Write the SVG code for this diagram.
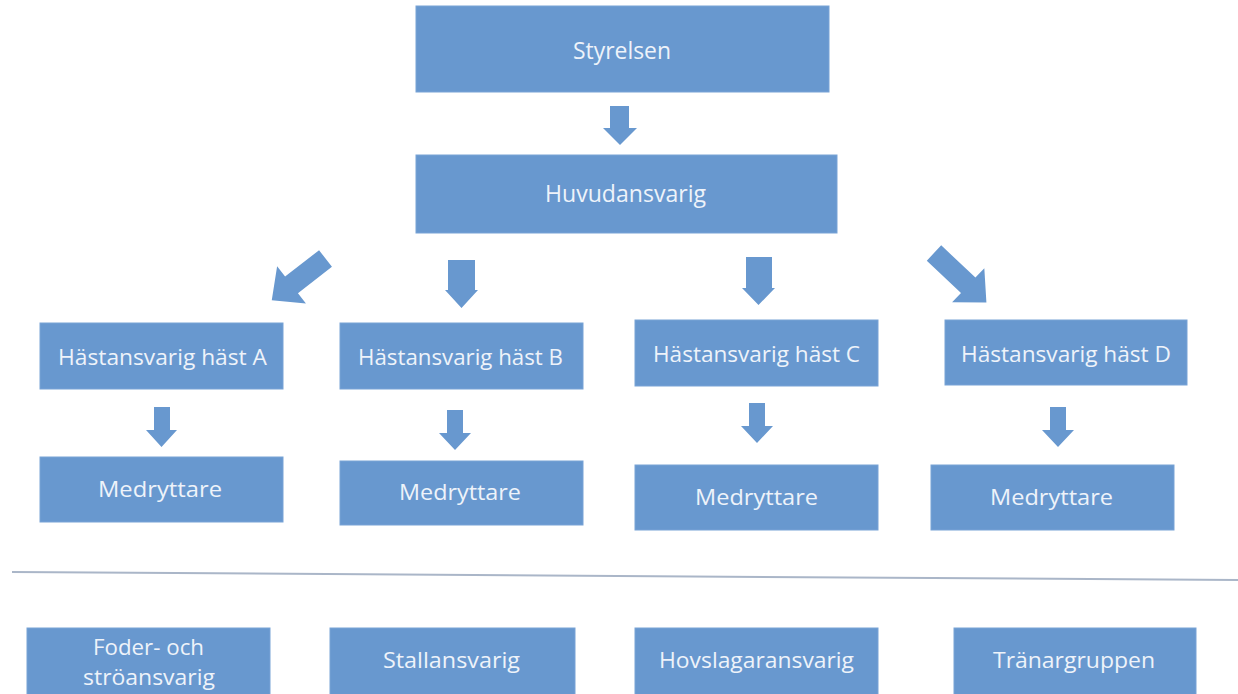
<svg xmlns="http://www.w3.org/2000/svg" width="1238" height="694" viewBox="0 0 1238 694">
<style>
.box{fill:#6898cf;stroke:#79a3d6;stroke-width:1}
.arr{fill:#6898cf}
.t{font-family:"Open Sans","Lato","Liberation Sans",sans-serif;fill:#eef3fa;text-anchor:middle;font-size:22px}
.tb{font-size:24px}
.sep{stroke:#aab6c8;stroke-width:2;fill:none}
</style>
<rect width="1238" height="694" fill="#ffffff"/>
<g id="connectors">
<path class="arr" d="M610,106 H629 V128 H637 L620,145 L603,128 H610 Z"/>
<polygon class="arr" transform="translate(325.5,258.5) rotate(142.2)" points="0,-10.5 43,-10.5 43,-23.5 68,0 43,23.5 43,10.5 0,10.5"/>
<path class="arr" d="M448,260 H475 V290 H478 L461.5,308 L445,290 H448 Z"/>
<path class="arr" d="M746,257 H772 V288 H775 L758.5,305 L742,288 H746 Z"/>
<polygon class="arr" transform="translate(934,253) rotate(43.3)" points="0,-10.5 47,-10.5 47,-23.5 72,0 47,23.5 47,10.5 0,10.5"/>
<path class="arr" d="M154,407 H170 V430 H177 L161.5,447 L146,430 H154 Z"/>
<path class="arr" d="M447,410 H463 V433 H471 L455,450 L439,433 H447 Z"/>
<path class="arr" d="M749,403 H765 V426 H773 L757,443 L741,426 H749 Z"/>
<path class="arr" d="M1050,407 H1066 V430 H1074 L1058,447 L1042,430 H1050 Z"/>
</g>
<line id="separator" class="sep" x1="12" y1="572" x2="1238" y2="580"/>
<g id="styrelsen"><rect class="box" x="416" y="6" width="413" height="86"/><text class="t tb" x="622" y="59" textLength="98" lengthAdjust="spacingAndGlyphs">Styrelsen</text></g>
<g id="huvudansvarig"><rect class="box" x="416" y="155" width="421" height="78"/><text class="t tb" x="625.5" y="202" textLength="161" lengthAdjust="spacingAndGlyphs">Huvudansvarig</text></g>
<g id="hast-a"><rect class="box" x="40" y="323" width="243" height="66"/><text class="t" x="162.5" y="365" textLength="209" lengthAdjust="spacingAndGlyphs">Hästansvarig häst A</text></g>
<g id="hast-b"><rect class="box" x="340" y="323" width="243" height="66"/><text class="t" x="460.5" y="365" textLength="205" lengthAdjust="spacingAndGlyphs">Hästansvarig häst B</text></g>
<g id="hast-c"><rect class="box" x="635" y="320" width="243" height="66"/><text class="t" x="756.5" y="362" textLength="207" lengthAdjust="spacingAndGlyphs">Hästansvarig häst C</text></g>
<g id="hast-d"><rect class="box" x="945" y="320" width="242" height="65"/><text class="t" x="1066" y="362" textLength="210" lengthAdjust="spacingAndGlyphs">Hästansvarig häst D</text></g>
<g id="medryttare-a"><rect class="box" x="40" y="457" width="243" height="65"/><text class="t" x="160" y="497" textLength="124" lengthAdjust="spacingAndGlyphs">Medryttare</text></g>
<g id="medryttare-b"><rect class="box" x="340" y="461" width="243" height="64"/><text class="t" x="460" y="500" textLength="122" lengthAdjust="spacingAndGlyphs">Medryttare</text></g>
<g id="medryttare-c"><rect class="box" x="635" y="465" width="243" height="65"/><text class="t" x="756.5" y="505" textLength="123" lengthAdjust="spacingAndGlyphs">Medryttare</text></g>
<g id="medryttare-d"><rect class="box" x="931" y="465" width="243" height="65"/><text class="t" x="1051.5" y="505" textLength="123" lengthAdjust="spacingAndGlyphs">Medryttare</text></g>
<g id="foder"><rect class="box" x="27" y="628" width="243" height="80"/><text class="t" x="148.5" y="655" textLength="111" lengthAdjust="spacingAndGlyphs">Foder- och</text><text class="t" x="149" y="685" textLength="132" lengthAdjust="spacingAndGlyphs">ströansvarig</text></g>
<g id="stallansvarig"><rect class="box" x="330" y="628" width="245" height="80"/><text class="t" x="451.5" y="668" textLength="137" lengthAdjust="spacingAndGlyphs">Stallansvarig</text></g>
<g id="hovslagaransvarig"><rect class="box" x="635" y="628" width="243" height="80"/><text class="t" x="756.5" y="668" textLength="195" lengthAdjust="spacingAndGlyphs">Hovslagaransvarig</text></g>
<g id="tranargruppen"><rect class="box" x="954" y="628" width="242" height="80"/><text class="t" x="1074" y="668" textLength="162" lengthAdjust="spacingAndGlyphs">Tränargruppen</text></g>
</svg>
